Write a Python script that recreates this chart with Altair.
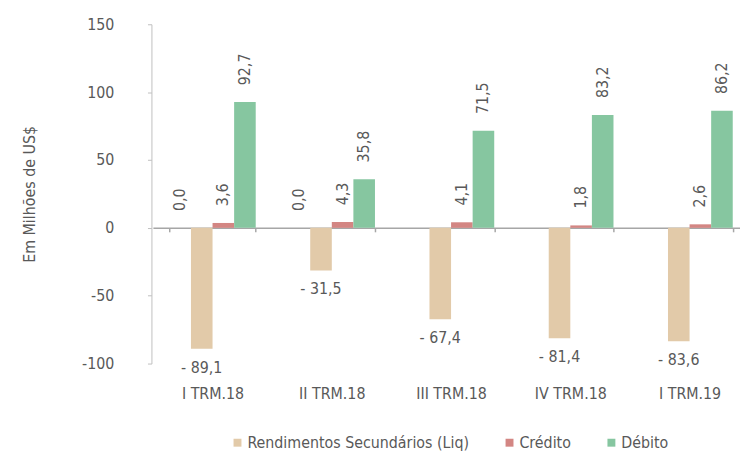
import altair as alt
import pandas as pd

quarters = ["I TRM.18", "II TRM.18", "III TRM.18", "IV TRM.18", "I TRM.19"]
series_names = ["Rendimentos Secundários (Liq)", "Crédito", "Débito"]
hidden_name = "Outros"
hidden_vals = [0.0, 0.0, None, None, None]
rendimentos = [-89.1, -31.5, -67.4, -81.4, -83.6]
credito = [3.6, 4.3, 4.1, 1.8, 2.6]
debito = [92.7, 35.8, 71.5, 83.2, 86.2]
y_ticks = [-100, -50, 0, 50, 100, 150]
colors = ["#E2CAA9", "#D38683", "#86C6A0"]

offset_domain = [hidden_name] + series_names


def fmt(v):
    s = f"{abs(v):.1f}".replace(".", ",")
    return ("- " + s) if v < 0 else s


rows = []
for name, vals in [(hidden_name, hidden_vals), (series_names[0], rendimentos),
                   (series_names[1], credito), (series_names[2], debito)]:
    for q, v in zip(quarters, vals):
        if v is None:
            continue
        rows.append(dict(quarter=q, series=name, value=v, label=fmt(v)))
df = pd.DataFrame(rows)

font = "DejaVu Sans Condensed, Roboto, sans-serif"
fs = 16
gray = "#595959"

xscale = alt.Scale(domain=quarters, range=[1.5, 604.3], paddingInner=0.276, paddingOuter=0.138)
offscale = alt.Scale(domain=offset_domain)
yscale = alt.Scale(domain=[-100, 150], nice=False)

base = alt.Chart(df).encode(
    x=alt.X("quarter:N", scale=xscale, sort=quarters,
            axis=alt.Axis(title=None, orient="bottom", offset=-137.2,
                          domainColor="#A6A6A6", domainWidth=1.5,
                          tickBand="extent", ticks=True, tickSize=4,
                          tickColor="#A6A6A6", tickWidth=1.5,
                          labelPadding=156, labelAngle=0, labelFont=font,
                          labelFontSize=fs, labelColor=gray)),
    xOffset=alt.XOffset("series:N", scale=offscale, sort=offset_domain),
    y=alt.Y("value:Q", scale=yscale,
            axis=alt.Axis(values=y_ticks, title="Em Milhões de US$", grid=False,
                          labelExpr="'' + datum.value",
                          domainColor="#BFBFBF", tickColor="#BFBFBF", tickSize=4,
                          labelPadding=34, labelFont=font, labelFontSize=fs,
                          labelColor=gray, titleFont=font, titleFontSize=fs,
                          titleFontWeight="normal", titleColor=gray,
                          titleX=-123, titleY=171.5, titleAngle=270,
                          titleAlign="center", titleBaseline="middle")),
)

bars = base.transform_filter(f"datum.series != '{hidden_name}'").mark_bar().encode(
    color=alt.Color("series:N", scale=alt.Scale(domain=series_names, range=colors),
                    legend=alt.Legend(orient="none", legendX=79, legendY=415,
                                      direction="horizontal", title=None,
                                      symbolType="square", symbolSize=64,
                                      symbolStrokeWidth=0, labelFont=font,
                                      labelFontSize=fs, labelColor=gray,
                                      labelLimit=0,
                                      labelOffset=2, columnPadding=32, padding=0))
)

pos = base.transform_filter("datum.value >= 0").mark_text(
    angle=270, align="left", baseline="middle", dx=17, font=font, fontSize=fs, color=gray
).encode(text="label:N")

neg = base.transform_filter("datum.value < 0").mark_text(
    align="center", baseline="middle", dy=19, font=font, fontSize=fs, color=gray
).encode(text="label:N")

chart = alt.layer(bars, pos, neg).properties(
    width=595, height=343,
    padding={"left": 145, "top": 14, "right": 0, "bottom": 92},
    autosize=alt.AutoSizeParams(type="none"),
).configure_view(stroke=None)

chart.save("out.html", embed_options={"renderer": "svg", "actions": False})
